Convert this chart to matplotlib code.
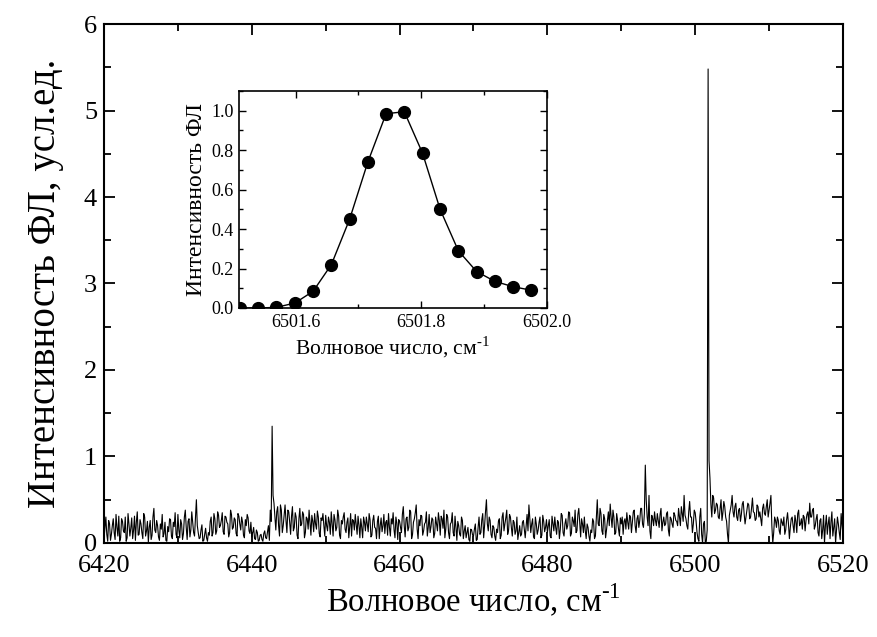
import numpy as np
import matplotlib
matplotlib.use("Agg")
import matplotlib.pyplot as plt
from matplotlib.ticker import MultipleLocator

plt.rcParams["font.family"] = ["Liberation Serif", "DejaVu Serif"]
plt.rcParams["mathtext.fontset"] = "custom"
plt.rcParams["mathtext.rm"] = "Liberation Serif"

WN_START = 6420.0
WN_STEP = 0.25
intensity = [
    0.05, 0.30, 0.02, 0.22, 0.10, 0.28, 0.04, 0.18, 0.31, 0.06, 0.25, 0.12, 0.02, 0.34, 0.08, 0.29, 0.15, 0.03, 0.36, 0.10,
    0.22, 0.05, 0.30, 0.14, 0.01, 0.26, 0.09, 0.40, 0.12, 0.20, 0.03, 0.16, 0.07, 0.24, 0.02, 0.13, 0.27, 0.05, 0.19, 0.10,
    0.33, 0.06, 0.22, 0.11, 0.38, 0.04, 0.28, 0.15, 0.24, 0.08, 0.50, 0.12, 0.06, 0.21, 0.03, 0.17, 0.02, 0.09, 0.30, 0.12,
    0.28, 0.14, 0.32, 0.20, 0.35, 0.10, 0.30, 0.22, 0.12, 0.33, 0.18, 0.27, 0.08, 0.31, 0.15, 0.24, 0.06, 0.20, 0.29, 0.11,
    0.07, 0.18, 0.04, 0.12, 0.03, 0.10, 0.02, 0.14, 0.05, 0.20, 0.38, 1.35, 0.46, 0.15, 0.42, 0.08, 0.38, 0.20, 0.44, 0.12,
    0.36, 0.10, 0.42, 0.18, 0.30, 0.05, 0.40, 0.22, 0.33, 0.12, 0.28, 0.38, 0.09, 0.25, 0.34, 0.16, 0.30, 0.07, 0.26, 0.20,
    0.32, 0.14, 0.24, 0.36, 0.08, 0.27, 0.18, 0.31, 0.05, 0.22, 0.35, 0.12, 0.29, 0.19, 0.08, 0.26, 0.33, 0.10, 0.21, 0.28,
    0.06, 0.24, 0.30, 0.13, 0.27, 0.09, 0.32, 0.17, 0.25, 0.05, 0.29, 0.20, 0.11, 0.26, 0.34, 0.08, 0.22, 0.15, 0.30, 0.04,
    0.25, 0.12, 0.42, 0.07, 0.30, 0.18, 0.36, 0.10, 0.28, 0.44, 0.05, 0.20, 0.31, 0.14, 0.24, 0.08, 0.33, 0.19, 0.27, 0.11,
    0.22, 0.35, 0.09, 0.28, 0.38, 0.16, 0.30, 0.05, 0.24, 0.12, 0.31, 0.03, 0.20, 0.08, 0.26, 0.14, 0.06, 0.18, 0.02, 0.15,
    0.08, 0.22, 0.04, 0.30, 0.12, 0.34, 0.20, 0.50, 0.14, 0.26, 0.06, 0.18, 0.03, 0.12, 0.28, 0.09, 0.35, 0.22, 0.38, 0.15,
    0.30, 0.08, 0.24, 0.14, 0.04, 0.20, 0.10, 0.26, 0.06, 0.33, 0.44, 0.12, 0.28, 0.05, 0.22, 0.15, 0.30, 0.09, 0.25, 0.18,
    0.12, 0.27, 0.06, 0.22, 0.30, 0.10, 0.24, 0.16, 0.32, 0.08, 0.28, 0.20, 0.35, 0.11, 0.26, 0.38, 0.14, 0.40, 0.07, 0.22,
    0.30, 0.05, 0.18, 0.02, 0.12, 0.25, 0.08, 0.50, 0.20, 0.34, 0.10, 0.28, 0.15, 0.36, 0.45, 0.18, 0.30, 0.12, 0.26, 0.08,
    0.22, 0.10, 0.28, 0.35, 0.16, 0.30, 0.24, 0.38, 0.12, 0.32, 0.26, 0.40, 0.18, 0.90, 0.30, 0.55, 0.05, 0.28, 0.36, 0.20,
    0.26, 0.33, 0.14, 0.30, 0.22, 0.36, 0.08, 0.28, 0.18, 0.32, 0.25, 0.40, 0.20, 0.34, 0.55, 0.28, 0.16, 0.48, 0.30, 0.22,
    0.35, 0.12, 0.02, 0.40, 0.00, 0.25, 0.02, 5.48, 0.75, 0.30, 0.52, 0.38, 0.44, 0.28, 0.50, 0.35, 0.42, 0.25, 0.00, 0.38,
    0.55, 0.30, 0.46, 0.26, 0.40, 0.33, 0.48, 0.22, 0.38, 0.44, 0.30, 0.52, 0.35, 0.28, 0.42, 0.36, 0.20, 0.45, 0.32, 0.50,
    0.38, 0.55, 0.00, 0.30, 0.18, 0.26, 0.10, 0.24, 0.30, 0.15, 0.35, 0.05, 0.28, 0.20, 0.32, 0.12, 0.38, 0.22, 0.16, 0.30,
    0.26, 0.36, 0.46, 0.30, 0.40, 0.20, 0.33, 0.08, 0.28, 0.15, 0.00, 0.32, 0.22, 0.05, 0.36, 0.18, 0.00, 0.30, 0.12, 0.34,
    0.10,
]
# points in between (6420.125, 6420.375, ...)
intensity_mid = [
    0.18, 0.10, 0.26, 0.03, 0.20, 0.12, 0.33, 0.08, 0.02, 0.28, 0.14, 0.30, 0.06, 0.22, 0.17, 0.05, 0.31, 0.24, 0.09, 0.27,
    0.12, 0.34, 0.08, 0.25, 0.18, 0.04, 0.30, 0.15, 0.26, 0.07, 0.22, 0.33, 0.11, 0.03, 0.19, 0.28, 0.08, 0.24, 0.35, 0.06,
    0.15, 0.27, 0.04, 0.30, 0.18, 0.25, 0.07, 0.36, 0.12, 0.29, 0.20, 0.05, 0.15, 0.02, 0.10, 0.06, 0.12, 0.25, 0.08, 0.34,
    0.10, 0.36, 0.18, 0.26, 0.13, 0.31, 0.24, 0.07, 0.38, 0.16, 0.29, 0.11, 0.34, 0.22, 0.30, 0.09, 0.27, 0.33, 0.14, 0.24,
    0.12, 0.05, 0.15, 0.02, 0.09, 0.04, 0.11, 0.06, 0.13, 0.03, 0.25, 0.55, 0.30, 0.36, 0.20, 0.44, 0.12, 0.32, 0.26, 0.38,
    0.24, 0.31, 0.14, 0.35, 0.09, 0.28, 0.20, 0.36, 0.06, 0.30, 0.16, 0.24, 0.32, 0.13, 0.22, 0.37, 0.11, 0.29, 0.34, 0.08,
    0.20, 0.30, 0.10, 0.22, 0.33, 0.14, 0.38, 0.09, 0.26, 0.30, 0.16, 0.24, 0.06, 0.34, 0.27, 0.15, 0.21, 0.31, 0.06, 0.18,
    0.30, 0.14, 0.22, 0.34, 0.07, 0.26, 0.18, 0.05, 0.31, 0.20, 0.13, 0.33, 0.24, 0.09, 0.18, 0.28, 0.35, 0.06, 0.23, 0.27,
    0.18, 0.33, 0.20, 0.28, 0.14, 0.38, 0.05, 0.24, 0.35, 0.16, 0.27, 0.32, 0.09, 0.22, 0.36, 0.18, 0.12, 0.29, 0.06, 0.30,
    0.14, 0.26, 0.31, 0.17, 0.06, 0.33, 0.12, 0.22, 0.35, 0.08, 0.18, 0.25, 0.10, 0.30, 0.05, 0.20, 0.12, 0.04, 0.16, 0.09,
    0.16, 0.03, 0.18, 0.10, 0.27, 0.06, 0.36, 0.22, 0.30, 0.10, 0.20, 0.08, 0.16, 0.25, 0.05, 0.30, 0.14, 0.29, 0.10, 0.33,
    0.18, 0.26, 0.10, 0.30, 0.12, 0.08, 0.24, 0.16, 0.20, 0.14, 0.28, 0.22, 0.07, 0.30, 0.10, 0.24, 0.06, 0.32, 0.13, 0.27,
    0.20, 0.08, 0.31, 0.14, 0.18, 0.26, 0.05, 0.34, 0.12, 0.22, 0.16, 0.36, 0.08, 0.30, 0.19, 0.12, 0.33, 0.24, 0.28, 0.12,
    0.14, 0.22, 0.08, 0.15, 0.28, 0.05, 0.30, 0.22, 0.40, 0.14, 0.33, 0.06, 0.26, 0.20, 0.30, 0.38, 0.10, 0.34, 0.16, 0.29,
    0.30, 0.25, 0.16, 0.24, 0.32, 0.12, 0.36, 0.20, 0.28, 0.18, 0.40, 0.22, 0.34, 0.50, 0.20, 0.14, 0.32, 0.20, 0.26, 0.34,
    0.18, 0.40, 0.24, 0.20, 0.34, 0.15, 0.30, 0.22, 0.35, 0.26, 0.20, 0.30, 0.42, 0.25, 0.32, 0.20, 0.36, 0.30, 0.12, 0.38,
    0.25, 0.05, 0.30, 0.10, 0.22, 0.00, 0.15, 0.95, 0.45, 0.55, 0.34, 0.46, 0.30, 0.40, 0.26, 0.48, 0.30, 0.10, 0.32, 0.44,
    0.36, 0.42, 0.30, 0.38, 0.25, 0.45, 0.34, 0.30, 0.46, 0.28, 0.40, 0.36, 0.26, 0.44, 0.30, 0.28, 0.40, 0.34, 0.42, 0.30,
    0.46, 0.20, 0.12, 0.26, 0.30, 0.14, 0.28, 0.20, 0.10, 0.27, 0.22, 0.18, 0.30, 0.12, 0.25, 0.34, 0.20, 0.28, 0.32, 0.14,
    0.33, 0.22, 0.30, 0.38, 0.16, 0.28, 0.12, 0.26, 0.05, 0.32, 0.20, 0.10, 0.30, 0.24, 0.08, 0.28, 0.15, 0.22, 0.04, 0.20,
]
wn_a = WN_START + WN_STEP * np.arange(len(intensity))
wn_b = WN_START + WN_STEP / 2 + WN_STEP * np.arange(len(intensity_mid))
wavenumber = np.concatenate([wn_a, wn_b])
signal = np.concatenate([intensity, intensity_mid])
order = np.argsort(wavenumber)
wavenumber, signal = wavenumber[order], signal[order]

# --- inset: profile of the 6501.8 line ---
inset_wn = [6501.511, 6501.540, 6501.569, 6501.599, 6501.628, 6501.657, 6501.686, 6501.715, 6501.744,
            6501.773, 6501.802, 6501.830, 6501.859, 6501.888, 6501.917, 6501.946, 6501.975]
inset_int = [0.0, 0.0, 0.003, 0.025, 0.085, 0.22, 0.45, 0.74, 0.985,
             0.995, 0.785, 0.50, 0.29, 0.185, 0.135, 0.108, 0.09]

fig = plt.figure(figsize=(8.77, 6.37), dpi=100)
ax = fig.add_axes([0.1186, 0.1476, 0.8426, 0.8147])
ax.plot(wavenumber, signal, color="black", lw=0.8)
ax.set_xlim(6420, 6520)
ax.set_ylim(0, 6)
ax.xaxis.set_major_locator(MultipleLocator(20))
ax.xaxis.set_minor_locator(MultipleLocator(10))
ax.yaxis.set_major_locator(MultipleLocator(1))
ax.yaxis.set_minor_locator(MultipleLocator(0.5))
ax.tick_params(which="both", direction="in", top=True, right=True, width=1.3)
ax.tick_params(which="major", length=8, labelsize=19)
ax.tick_params(axis="x", which="major", pad=9)
ax.tick_params(axis="y", which="major", pad=5)
ax.tick_params(which="minor", length=5)
for s in ax.spines.values():
    s.set_linewidth(1.5)
ax.set_xlabel(r"Волновое число, см$^{\text{-1}}$", fontsize=23.5, labelpad=3)
ax.set_ylabel("Интенсивность ФЛ, усл.ед.", fontsize=28, labelpad=14)

ins = fig.add_axes([0.2725, 0.5165, 0.3512, 0.3406])
ins.plot(inset_wn, inset_int, color="black", lw=1.0, marker="o", ms=8.5)
ins.set_xlim(6501.51, 6502.0)
ins.set_ylim(0, 1.1)
ins.xaxis.set_major_locator(MultipleLocator(0.2))
ins.xaxis.set_minor_locator(MultipleLocator(0.1))
ins.yaxis.set_major_locator(MultipleLocator(0.2))
ins.yaxis.set_minor_locator(MultipleLocator(0.1))
ins.xaxis.set_major_formatter(plt.FormatStrFormatter("%.1f"))
ins.yaxis.set_major_formatter(plt.FormatStrFormatter("%.1f"))
ins.tick_params(which="both", direction="in", top=True, right=True, width=1.0)
ins.tick_params(which="major", length=5, labelsize=13, pad=4)
ins.tick_params(which="minor", length=3)
for s in ins.spines.values():
    s.set_linewidth(1.2)
ins.set_xlabel(r"Волновое число, см$^{\text{-1}}$", fontsize=15.5, labelpad=3)
ins.set_ylabel("Интенсивность ФЛ", fontsize=17, labelpad=3)

fig.savefig("out.png", dpi=100)
